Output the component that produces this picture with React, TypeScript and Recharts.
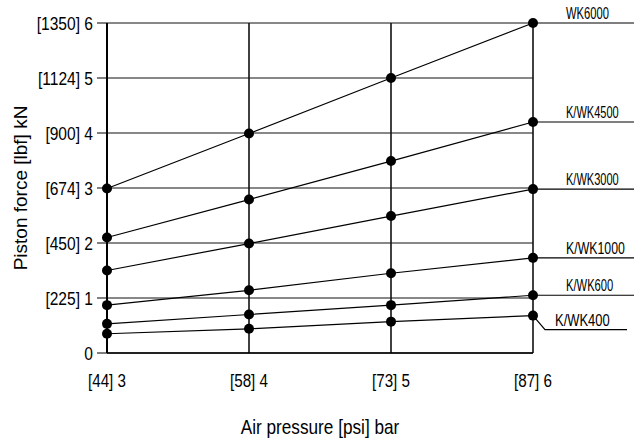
import { LineChart, Line, XAxis, YAxis, CartesianGrid } from 'recharts';

const SANS = "'Liberation Sans', Arial, sans-serif";

// air pressure in bar, with the psi equivalent shown in brackets
const pressureBar = [3, 4, 5, 6];
const pressurePsi = [44, 58, 73, 87];

// piston force ticks in kN, with lbf in brackets
const forceTicks = [0, 1, 2, 3, 4, 5, 6];
const forceLbf = [0, 225, 450, 674, 900, 1124, 1350];

// piston force (kN) per cylinder at 3, 4, 5, 6 bar
const wk6000 = [2.99, 3.99, 5.0, 6.0];
const kwk4500 = [2.1, 2.79, 3.49, 4.2];
const kwk3000 = [1.5, 1.99, 2.49, 2.98];
const kwk1000 = [0.87, 1.14, 1.45, 1.73];
const kwk600 = [0.53, 0.7, 0.87, 1.05];
const kwk400 = [0.35, 0.44, 0.57, 0.68];

// squeeze = horizontal scale of the tag text (the original uses a condensed face)
const series = [
  { key: 'wk6000', name: 'WK6000', values: wk6000, squeeze: 0.7, leader: false },
  { key: 'kwk4500', name: 'K/WK4500', values: kwk4500, squeeze: 0.69, leader: false },
  { key: 'kwk3000', name: 'K/WK3000', values: kwk3000, squeeze: 0.69, leader: false },
  { key: 'kwk1000', name: 'K/WK1000', values: kwk1000, squeeze: 0.77, leader: false },
  { key: 'kwk600', name: 'K/WK600', values: kwk600, squeeze: 0.7, leader: false },
  { key: 'kwk400', name: 'K/WK400', values: kwk400, squeeze: 0.81, leader: true },
];

const data = pressureBar.map((bar, i) => {
  const row: Record<string, number> = { bar };
  series.forEach((s) => { row[s.key] = s.values[i]; });
  return row;
});

const xLabel = (v: number) => `[${pressurePsi[pressureBar.indexOf(v)]}] ${v}`;
const yLabel = (v: number) => (v === 0 ? '0' : `[${forceLbf[forceTicks.indexOf(v)]}] ${v}`);

function Narrow({ x, y, anchor = 'start', size, squeeze, dy = 0, children }: any) {
  return (
    <text
      transform={`translate(${x},${y}) scale(${squeeze},1)`}
      textAnchor={anchor}
      dy={dy}
      fontFamily={SANS}
      fontSize={size}
      fill="#000"
    >
      {children}
    </text>
  );
}

function XTick({ x, y, payload }: any) {
  return <Narrow x={x} y={y} anchor="middle" size={19} squeeze={0.8} dy="0.71em">{xLabel(payload.value)}</Narrow>;
}

function YTick({ x, y, payload }: any) {
  return <Narrow x={x} y={y} anchor="end" size={19} squeeze={0.82} dy="0.355em">{yLabel(payload.value)}</Narrow>;
}

function SeriesTag(props: any) {
  const { x, y, index, s } = props;
  if (index !== pressureBar.length - 1) return null;
  if (s.leader) {
    const ly = y + 14;
    return (
      <g>
        <polyline points={`${x},${y} ${x + 12},${ly} ${x + 94},${ly}`} fill="none" stroke="#000" strokeWidth={1.2} />
        <Narrow x={x + 22} y={ly - 4} size={16} squeeze={s.squeeze}>{s.name}</Narrow>
      </g>
    );
  }
  return (
    <g>
      <line x1={x} y1={y} x2={x + 101} y2={y} stroke="#000" strokeWidth={1.2} />
      <Narrow x={x + 33} y={y - 4} size={16} squeeze={s.squeeze}>{s.name}</Narrow>
    </g>
  );
}

export default function App() {
  return (
    <div style={{ position: 'absolute', left: 0, top: 0, width: 634, height: 442, background: '#fff' }}>
      <LineChart width={634} height={442} data={data} margin={{ top: 23, right: 101, bottom: 0, left: 0 }}>
        <CartesianGrid vertical={false} stroke="#111" strokeWidth={1} />
        <CartesianGrid horizontal={false} stroke="#111" strokeWidth={1.6} />
        <XAxis
          dataKey="bar"
          type="number"
          domain={[3, 6]}
          ticks={pressureBar}
          height={89}
          tickLine={false}
          tickMargin={15}
          axisLine={{ stroke: '#000', strokeWidth: 1.5 }}
          tick={<XTick />}
          label={{
            content: ({ viewBox }: any) => (
              <Narrow x={viewBox.x + viewBox.width / 2} y={viewBox.y + 81} anchor="middle" size={20} squeeze={0.86}>
                Air pressure [psi] bar
              </Narrow>
            ),
          }}
        />
        <YAxis
          type="number"
          domain={[0, 6]}
          ticks={forceTicks}
          width={107}
          tickSize={10}
          tickMargin={4}
          axisLine={{ stroke: '#000', strokeWidth: 2 }}
          tickLine={{ stroke: '#000', strokeWidth: 1 }}
          tick={<YTick />}
          label={{
            content: ({ viewBox }: any) => {
              const cx = 20;
              const cy = viewBox.y + viewBox.height / 2;
              return (
                <text x={cx} y={cy} transform={`rotate(-90, ${cx}, ${cy})`} textAnchor="middle" dominantBaseline="central" fontFamily={SANS} fontSize={19} fill="#000">
                  Piston force [lbf] kN
                </text>
              );
            },
          }}
        />
        {series.map((s) => (
          <Line
            key={s.key}
            dataKey={s.key}
            name={s.name}
            stroke="#000"
            strokeWidth={1.2}
            dot={{ r: 5, fill: '#000', stroke: 'none' }}
            activeDot={false}
            isAnimationActive={false}
            label={(p: any) => <SeriesTag key={`${s.key}-${p.index}`} {...p} s={s} />}
          />
        ))}
      </LineChart>
    </div>
  );
}
